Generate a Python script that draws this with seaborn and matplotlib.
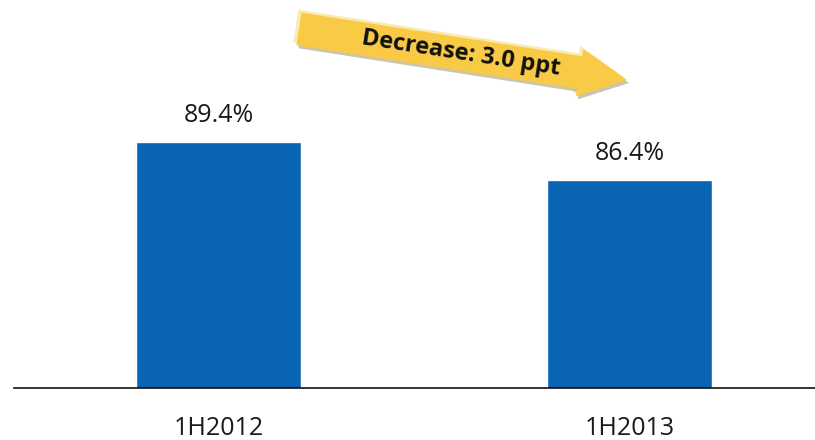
import matplotlib
matplotlib.use("Agg")
import matplotlib.pyplot as plt
from matplotlib.patches import FancyArrow
from matplotlib.transforms import Affine2D
import seaborn as sns
import pandas as pd
import numpy as np

periods = ["1H2012", "1H2013"]
ratios = [89.4, 86.4]
value_labels = ["89.4%", "86.4%"]
change_text = "Decrease: 3.0 ppt"

sns.set_style("white")
plt.rcParams["font.family"] = ["Open Sans", "DejaVu Sans"]

W, H, DPI = 815, 440, 100
fig = plt.figure(figsize=(W / DPI, H / DPI), dpi=DPI)
ax = fig.add_axes([14 / W, (H - 388) / H, 1 - 14 / W, 388 / H])

df = pd.DataFrame({"period": periods, "ratio": ratios})
sns.barplot(data=df, x="period", y="ratio", color="#0A64B4", saturation=1,
            width=0.4, ax=ax)

ax.set_ylim(70, 100.63)
ax.set_xlim(-0.4976, 1.451)
ax.set_xlabel("")
ax.set_ylabel("")
ax.set_yticks([])
for side in ("top", "left", "right"):
    ax.spines[side].set_visible(False)
ax.spines["bottom"].set_color("#111111")
ax.spines["bottom"].set_linewidth(1.2)
ax.tick_params(axis="x", length=0, pad=20, labelsize=18, labelcolor="#1a1a1a")

for i, (v, lab) in enumerate(zip(ratios, value_labels)):
    ax.annotate(lab, xy=(i, v), xytext=(0, 10), textcoords="offset points",
                ha="center", va="bottom", fontsize=18, color="#1a1a1a")

# pixel coordinates measured from the top-left corner of the figure
px = Affine2D().scale(1, -1).translate(0, H).scale(1 / DPI) + fig.dpi_scale_trans

tail = np.array([299.0, 29.0])
tip = np.array([627.0, 80.0])
d = tip - tail
angle = np.degrees(np.arctan2(d[1], d[0]))

def arrow(offset, color, alpha=1.0, z=3):
    ox, oy = offset
    a = FancyArrow(tail[0] + ox, tail[1] + oy, d[0], d[1], width=33,
                   head_width=48, head_length=48, length_includes_head=True,
                   color=color, alpha=alpha, lw=0, transform=px, zorder=z)
    fig.add_artist(a)

arrow((-3, -3), "#FBE7A6", 0.9, 2)
arrow((2, 3), "#B5AC8C", 0.7, 2)
arrow((0, 0), "#F8CA45", 1.0, 3)

fig.text(461, 54, change_text, transform=px, rotation=-angle,
         rotation_mode="anchor", ha="center", va="center", fontsize=17,
         fontweight="bold", color="#111111", zorder=4)

fig.savefig("out.png", dpi=DPI)
